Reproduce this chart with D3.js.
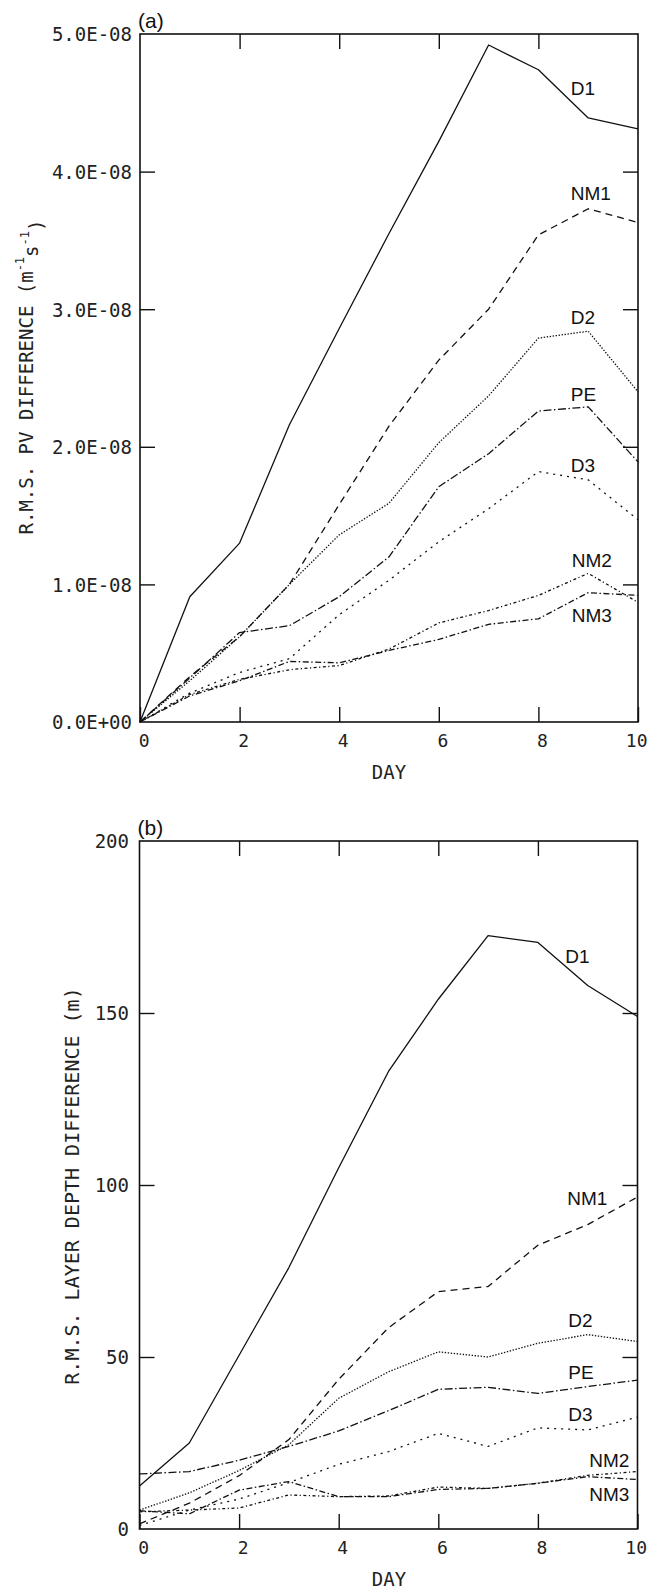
<!DOCTYPE html>
<html>
<head>
<meta charset="utf-8">
<script src="https://cdn.jsdelivr.net/npm/d3@7"></script>
<style>
  html, body { margin: 0; padding: 0; background: #fff; }
  svg { display: block; }
  .mono { font-family: "DejaVu Sans Mono", "Liberation Mono", monospace; fill: #222; }
  .sans { font-family: "Liberation Sans", Arial, sans-serif; fill: #111; }
</style>
</head>
<body>
<svg id="chart" width="652" height="1591"></svg>
<script>
// ---------- data ----------
const days = [0, 1, 2, 3, 4, 5, 6, 7, 8, 9, 10];
const seriesNames = ["D1", "NM1", "D2", "PE", "D3", "NM2", "NM3"];
const xTicks = [0, 2, 4, 6, 8, 10];

// panel (a): R.M.S. PV difference (m^-1 s^-1)
const pvD1  = [0, 0.91e-8, 1.30e-8, 2.16e-8, 2.86e-8, 3.55e-8, 4.22e-8, 4.92e-8, 4.74e-8, 4.39e-8, 4.31e-8];
const pvNM1 = [0, 0.33e-8, 0.62e-8, 1.00e-8, 1.58e-8, 2.15e-8, 2.63e-8, 3.00e-8, 3.54e-8, 3.73e-8, 3.63e-8];
const pvD2  = [0, 0.30e-8, 0.62e-8, 1.00e-8, 1.36e-8, 1.59e-8, 2.03e-8, 2.37e-8, 2.79e-8, 2.84e-8, 2.40e-8];
const pvPE  = [0, 0.32e-8, 0.65e-8, 0.70e-8, 0.91e-8, 1.20e-8, 1.71e-8, 1.95e-8, 2.26e-8, 2.29e-8, 1.89e-8];
const pvD3  = [0, 0.21e-8, 0.36e-8, 0.46e-8, 0.78e-8, 1.03e-8, 1.31e-8, 1.55e-8, 1.82e-8, 1.76e-8, 1.47e-8];
const pvNM2 = [0, 0.20e-8, 0.31e-8, 0.38e-8, 0.41e-8, 0.53e-8, 0.72e-8, 0.81e-8, 0.92e-8, 1.08e-8, 0.87e-8];
const pvNM3 = [0, 0.19e-8, 0.30e-8, 0.44e-8, 0.43e-8, 0.52e-8, 0.60e-8, 0.71e-8, 0.75e-8, 0.94e-8, 0.92e-8];
const pvTicks = [0, 1e-8, 2e-8, 3e-8, 4e-8, 5e-8];
const pvTickLabels = ["0.0E+00", "1.0E-08", "2.0E-08", "3.0E-08", "4.0E-08", "5.0E-08"];

// panel (b): R.M.S. layer depth difference (m)
const ldD1  = [12.5, 25, 50.5, 76, 105, 133, 154, 172.5, 170.5, 158, 149];
const ldNM1 = [1.5, 7.5, 15.5, 26, 43.5, 58.5, 69, 70.5, 82.5, 88.5, 96.5];
const ldD2  = [5.5, 10.5, 17, 24.5, 38, 45.7, 51.5, 50, 54, 56.5, 54.5];
const ldPE  = [16, 16.7, 20, 24, 28.5, 34.4, 40.6, 41.2, 39.4, 41.4, 43.3];
const ldD3  = [1.0, 5.5, 8.7, 13.5, 18.8, 22.5, 27.8, 24, 29.4, 28.8, 32.5];
const ldNM2 = [5.0, 5.5, 6.1, 9.9, 9.4, 9.6, 12.2, 11.8, 13.3, 15.6, 16.7];
const ldNM3 = [5.3, 4.4, 11.3, 13.8, 9.4, 9.4, 11.5, 11.8, 13.3, 15.2, 14.4];
const ldTicks = [0, 50, 100, 150, 200];
const ldTickLabels = ["0", "50", "100", "150", "200"];

// ---------- styles ----------
const dashes = {
  D1: null,
  NM1: "7,5",
  D2: "1.4,1.6",
  PE: "8,2.5,1.5,2.5",
  D3: "2,5",
  NM2: "3,2.5,1.2,2.5",
  NM3: "6,2.5,1.5,2.5"
};

const svg = d3.select("#chart");

function panel(cfg) {
  const x = d3.scaleLinear().domain([0, 10]).range([cfg.left, cfg.right]);
  const y = d3.scaleLinear().domain([0, cfg.ymax]).range([cfg.bottom, cfg.top]);
  const g = svg.append("g");

  // frame
  g.append("rect")
    .attr("x", cfg.left).attr("y", cfg.top)
    .attr("width", cfg.right - cfg.left).attr("height", cfg.bottom - cfg.top)
    .attr("fill", "none").attr("stroke", "#111").attr("stroke-width", 1.6);

  // bottom axis (inward ticks + labels)
  const xb = g.append("g").attr("transform", `translate(0,${cfg.bottom})`)
    .call(d3.axisBottom(x).tickValues(xTicks).tickSize(-15).tickPadding(0).tickFormat(d3.format("d")));
  xb.select(".domain").remove();
  xb.selectAll(".tick line").attr("stroke", "#111").attr("stroke-width", 1.4);
  xb.selectAll(".tick text")
    .attr("class", "mono").attr("font-size", 18).attr("text-anchor", "end")
    .attr("x", 9).attr("y", 25).attr("dy", null);
  xb.attr("font-family", null).attr("font-size", null);

  // top axis ticks (inward, no labels)
  const xt = g.append("g").attr("transform", `translate(0,${cfg.top})`)
    .call(d3.axisTop(x).tickValues(xTicks.slice(1, -1)).tickSize(-15).tickFormat(""));
  xt.select(".domain").remove();
  xt.selectAll(".tick line").attr("stroke", "#111").attr("stroke-width", 1.4);

  // left axis
  const yl = g.append("g").attr("transform", `translate(${cfg.left},0)`)
    .call(d3.axisLeft(y).tickValues(cfg.ticks).tickSize(-15).tickPadding(8)
      .tickFormat((d, i) => cfg.tickLabels[i]));
  yl.select(".domain").remove();
  yl.selectAll(".tick line").attr("stroke", "#111").attr("stroke-width", 1.4)
    .attr("display", d => (d === 0 || d === cfg.ymax) ? "none" : null);
  yl.selectAll(".tick text").attr("class", "mono").attr("font-size", cfg.tickFont)
    .attr("x", cfg.tickX - cfg.left).attr("dy", "0.36em");
  yl.attr("font-family", null).attr("font-size", null);

  // right axis ticks
  const yr = g.append("g").attr("transform", `translate(${cfg.right},0)`)
    .call(d3.axisRight(y).tickValues(cfg.ticks.slice(1, -1)).tickSize(-15).tickFormat(""));
  yr.select(".domain").remove();
  yr.selectAll(".tick line").attr("stroke", "#111").attr("stroke-width", 1.4);

  // lines
  const line = d3.line().x((d, i) => x(days[i])).y(d => y(d));
  cfg.series.forEach((vals, k) => {
    const name = seriesNames[k];
    g.append("path").datum(vals)
      .attr("d", line)
      .attr("fill", "none").attr("stroke", "#111")
      .attr("stroke-width", 1.3)
      .attr("stroke-linejoin", "round")
      .attr("stroke-dasharray", dashes[name]);
  });

  // series labels
  cfg.labels.forEach((p, k) => {
    g.append("text").attr("class", "sans")
      .attr("x", x(p[0])).attr("y", y(p[1]))
      .attr("font-size", 19).text(seriesNames[k]);
  });

  // panel letter
  g.append("text").attr("class", "sans").attr("font-size", 21)
    .attr("x", cfg.left - 2).attr("y", cfg.top - 6).text(cfg.letter);

  // x title
  g.append("text").attr("class", "mono").attr("font-size", 19)
    .attr("text-anchor", "middle")
    .attr("x", 389).attr("y", cfg.bottom + 57).text("DAY");

  // y title
  const t = g.append("text").attr("class", "mono").attr("font-size", cfg.titleFont)
    .attr("text-anchor", "middle")
    .attr("transform", `translate(${cfg.titleX},${cfg.titleY}) rotate(-90)`)
    .attr("dy", "0.36em");
  cfg.title(t);
}

panel({
  left: 140, right: 638, top: 34, bottom: 722, ymax: 5e-8,
  ticks: pvTicks, tickLabels: pvTickLabels, tickFont: 19, tickX: 132,
  letter: "(a)",
  series: [pvD1, pvNM1, pvD2, pvPE, pvD3, pvNM2, pvNM3],
  labels: [[8.65, 4.56e-8], [8.65, 3.79e-8], [8.65, 2.89e-8], [8.65, 2.33e-8],
           [8.65, 1.82e-8], [8.67, 1.13e-8], [8.67, 0.73e-8]],
  titleX: 26, titleY: 377, titleFont: 19,
  title: t => {
    t.append("tspan").text("R.M.S. PV DIFFERENCE (m");
    t.append("tspan").attr("font-size", 12).attr("dy", "-0.75em").text("-1");
    t.append("tspan").attr("dy", "0.75em").text("s");
    t.append("tspan").attr("font-size", 12).attr("dy", "-0.75em").text("-1");
    t.append("tspan").attr("dy", "0.75em").text(")");
  }
});

panel({
  left: 139.5, right: 637.5, top: 841, bottom: 1529, ymax: 200,
  ticks: ldTicks, tickLabels: ldTickLabels, tickFont: 19, tickX: 129,
  letter: "(b)",
  series: [ldD1, ldNM1, ldD2, ldPE, ldD3, ldNM2, ldNM3],
  labels: [[8.55, 164.5], [8.59, 94.2], [8.61, 58.7], [8.61, 43.6],
           [8.61, 31.4], [9.03, 18], [9.03, 8.1]],
  titleX: 72, titleY: 1186, titleFont: 20,
  title: t => { t.text("R.M.S. LAYER DEPTH DIFFERENCE (m)"); }
});
</script>
</body>
</html>
